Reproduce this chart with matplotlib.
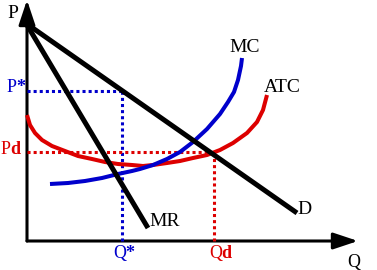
import matplotlib
matplotlib.use("Agg")
import matplotlib.pyplot as plt
from matplotlib.patches import FancyArrowPatch

plt.rcParams['font.family'] = ['Liberation Serif', 'DejaVu Serif']
plt.rcParams['mathtext.fontset'] = 'custom'
plt.rcParams['mathtext.rm'] = 'Liberation Serif'
plt.rcParams['mathtext.bf'] = 'Liberation Serif:bold'

BLUE = '#0000cc'
RED = '#dd0000'

# demand and marginal revenue (straight lines)
d_q = [0, 27.0]
d_p = [21.7, 2.8]
mr_q = [0, 12.1]
mr_p = [21.6, 1.3]

# marginal cost
mc_q = [2.3, 4.1, 5.8, 7.5, 9.1, 10.5, 11.3, 12.6, 14.0, 15.3, 16.6, 18.0, 19.3, 20.1, 20.7, 21.1, 21.4, 21.5]
mc_p = [5.7, 5.8, 6.0, 6.3, 6.7, 7.0, 7.2, 7.6, 8.2, 8.9, 9.9, 11.2, 12.7, 13.9, 14.9, 16.1, 17.5, 18.3]

# average total cost
atc_q = [0, 0.3, 0.8, 1.5, 2.5, 3.8, 5.1, 6.5, 7.8, 9.1, 10.5, 11.6, 12.6, 14.0, 15.3, 16.6,
         18.0, 19.3, 20.6, 22.0, 23.0, 23.6, 24.0]
atc_p = [12.6, 11.6, 10.8, 10.1, 9.5, 9.0, 8.5, 8.2, 7.9, 7.7, 7.6, 7.5, 7.6, 7.8, 8.0, 8.3,
         8.6, 9.1, 9.8, 10.8, 11.9, 13.1, 14.6]

# monopoly and break-even points
q_star, p_star = 9.5, 15.0
q_d, p_d = 18.7, 8.9

fig = plt.figure(figsize=(3.77, 2.70), dpi=100)
ax = fig.add_axes([0, 0, 1, 1])
ax.set_xlim(-2.7, 35.0)
ax.set_ylim(-2.9, 24.1)
ax.axis('off')

dot = (0, (1, 1))
ax.plot([0, q_star], [p_star, p_star], color=BLUE, lw=2.2, ls=dot, dash_capstyle='butt')
ax.plot([q_star, q_star], [0, p_star], color=BLUE, lw=2.2, ls=dot, dash_capstyle='butt')
ax.plot([0, q_d], [p_d, p_d], color=RED, lw=2.2, ls=dot, dash_capstyle='butt')
ax.plot([q_d, q_d], [0, p_d], color=RED, lw=2.2, ls=dot, dash_capstyle='butt')

ax.plot(atc_q, atc_p, color=RED, lw=2.9, solid_capstyle='butt', solid_joinstyle='round')
ax.plot(mc_q, mc_p, color=BLUE, lw=2.9, solid_capstyle='butt', solid_joinstyle='round')
ax.plot(d_q, d_p, color='black', lw=3.6, solid_capstyle='butt')
ax.plot(mr_q, mr_p, color='black', lw=3.6, solid_capstyle='butt')

# axes with arrows
for end in [(33.1, 0), (0, 24.1)]:
    ax.add_patch(FancyArrowPatch((0, 0), end, arrowstyle='-|>,head_length=0.75,head_width=0.25',
                                 mutation_scale=20, color='black', lw=2.2, shrinkA=0, shrinkB=0))

ax.text(-1.4, 22.8, 'P', fontsize=14, ha='center', va='center')
ax.text(-0.1, 15.3, r'P$\mathbf{*}$', fontsize=13, ha='right', va='center', color=BLUE)
ax.text(-0.5, 9.2, r'P$\mathbf{d}$', fontsize=13, ha='right', va='center', color=RED)
ax.text(21.8, 19.3, 'MC', fontsize=14, ha='center', va='center')
ax.text(25.5, 15.4, 'ATC', fontsize=14, ha='center', va='center')
ax.text(13.8, 1.9, 'MR', fontsize=14, ha='center', va='center')
ax.text(27.7, 3.2, 'D', fontsize=14, ha='center', va='center')
ax.text(9.75, -1.2, r'Q$\mathbf{*}$', fontsize=13, ha='center', va='center', color=BLUE)
ax.text(19.45, -1.2, r'Q$\mathbf{d}$', fontsize=13, ha='center', va='center', color=RED)
ax.text(32.7, -2.2, 'Q', fontsize=13, ha='center', va='center')

fig.savefig('out.png', dpi=100)
